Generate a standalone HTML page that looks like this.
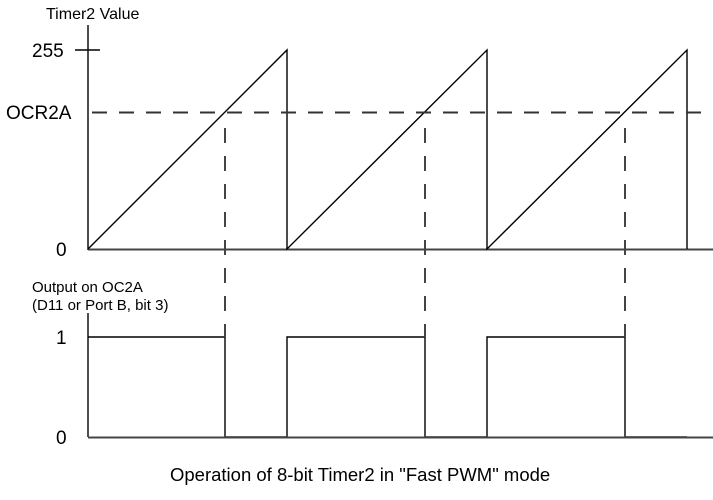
<!DOCTYPE html>
<html><head><style>
html,body{margin:0;padding:0;background:#fff;}
svg{display:block;}
text{font-family:"Liberation Sans",Arial,sans-serif;fill:#000;}
</style></head><body>
<svg width="713" height="500" viewBox="0 0 713 500" xmlns="http://www.w3.org/2000/svg">
<g stroke="#000" stroke-width="1.4" fill="none">
<line x1="88" y1="25" x2="88" y2="250"/>
<line x1="75" y1="50" x2="100" y2="50"/>
<line x1="88" y1="249.5" x2="713" y2="249.5" stroke="#444" stroke-width="2"/>
<polyline points="88,249 287,50 287,249 487,50 487,249 687,50 687,249"/>
<line x1="88" y1="313" x2="88" y2="437"/>
<polyline points="88,337 225,337 225,437 287,437 287,337 425,337 425,437 487,437 487,337 625,337 625,437 687,437"/>
<line x1="88" y1="437.5" x2="713" y2="437.5" stroke="#444" stroke-width="2"/>
</g>
<g stroke="#333" stroke-width="2" stroke-dasharray="15 12" fill="none">
<line x1="92" y1="112.5" x2="713" y2="112.5"/>
</g>
<g stroke="#444" stroke-width="2" stroke-dasharray="15 13" fill="none">
<line x1="225" y1="128" x2="225" y2="337"/>
<line x1="425" y1="128" x2="425" y2="337"/>
<line x1="625" y1="128" x2="625" y2="337"/>
</g>
<text x="46" y="19" font-size="16">Timer2 Value</text>
<text x="32" y="57" font-size="19">255</text>
<text x="6" y="119" font-size="19">OCR2A</text>
<text x="56" y="256" font-size="19">0</text>
<text x="32" y="292" font-size="15">Output on OC2A</text>
<text x="32" y="310" font-size="15">(D11 or Port B, bit 3)</text>
<text x="56" y="344" font-size="19">1</text>
<text x="56" y="444" font-size="19">0</text>
<text x="170" y="481" font-size="18.5">Operation of 8-bit Timer2 in "Fast PWM" mode</text>
</svg>
</body></html>
